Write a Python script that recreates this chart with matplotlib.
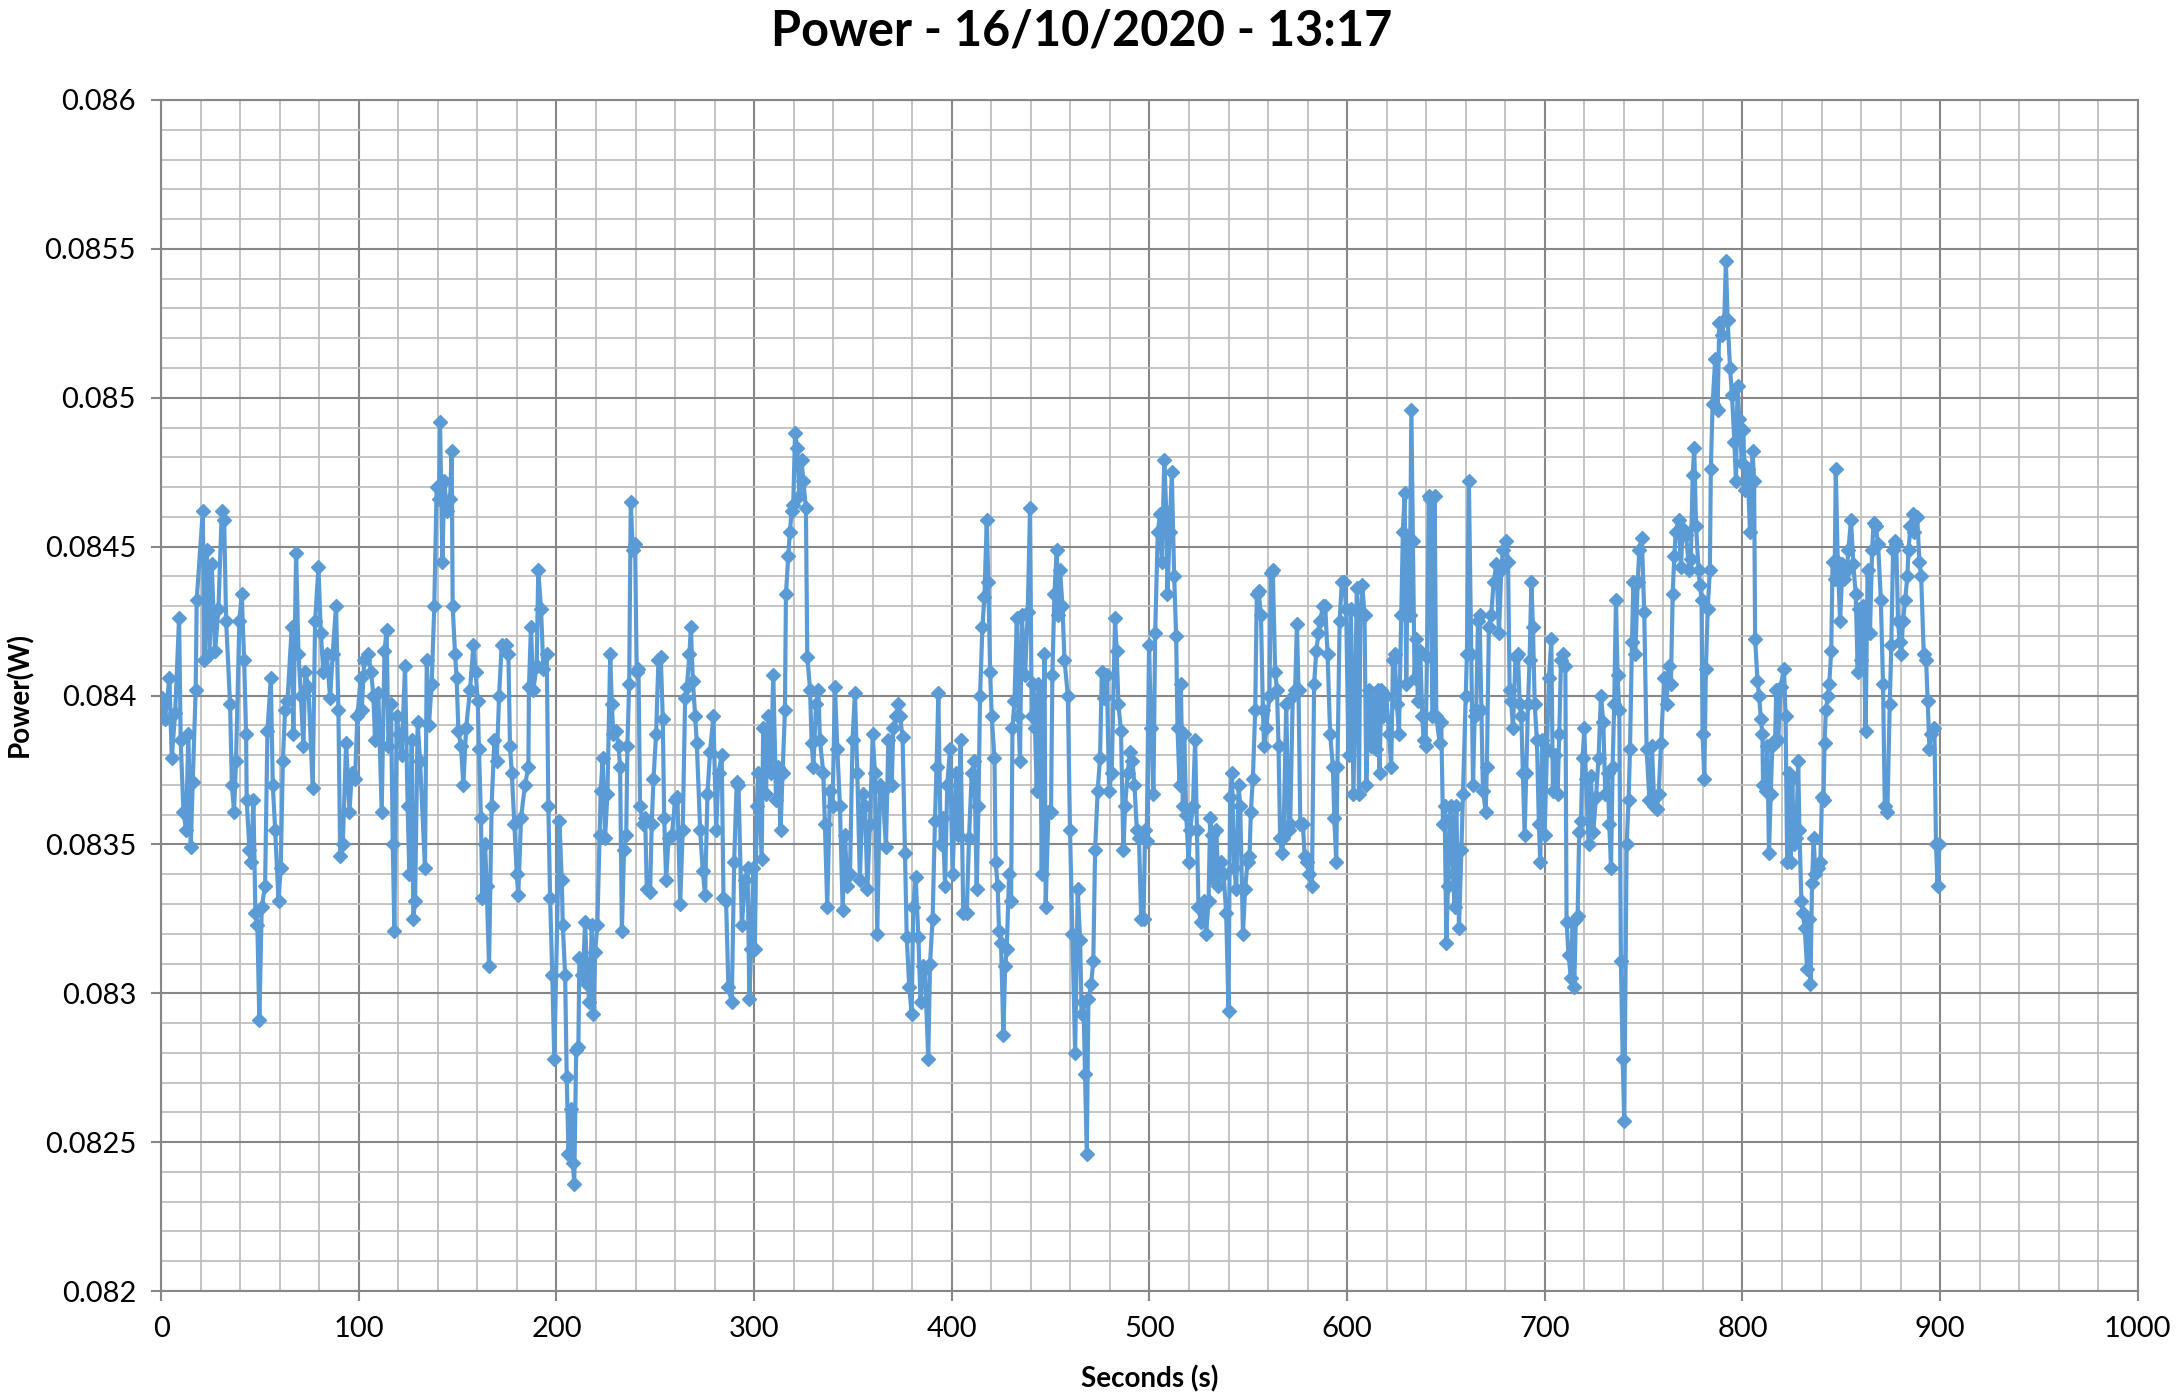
import numpy as np
import matplotlib
matplotlib.use("Agg")
import matplotlib.pyplot as plt
from matplotlib.ticker import MultipleLocator, FuncFormatter

plt.rcParams['font.family'] = ['Lato', 'DejaVu Sans']

# readings, seconds and power in mW, split in chunks of about 100 s
t1 = [0.3, 2.0, 4.2, 5.4, 7.1, 9.1, 9.9, 11.3, 12.6, 13.8, 15.0, 16.0, 17.5, 18.0, 21.1, 21.9, 23.1, 24.5, 25.6, 27.3,
      29.0, 30.7, 31.9, 32.9, 34.9, 35.8, 36.9, 37.9, 39.6, 40.8, 42.0, 43.0, 43.3, 44.7, 45.5, 46.7, 47.7, 48.7, 49.7, 50.9,
      52.6, 53.8, 55.5, 56.5, 57.7, 59.4, 60.5, 61.6, 62.7, 63.9, 66.1, 66.9, 68.3, 69.5, 70.7, 72.0, 72.9, 74.5, 76.7, 77.9,
      79.6, 80.8, 82.1, 83.8, 85.5, 86.8, 88.5, 89.7, 90.6, 91.9, 93.6, 95.3, 96.5, 98.1, 99.3, 101.0]
p1 = [83.99, 83.92, 84.06, 83.79, 83.94, 84.26, 83.85, 83.61, 83.55, 83.87, 83.49, 83.71, 84.02, 84.32, 84.62, 84.12, 84.49, 84.14, 84.44, 84.15,
      84.29, 84.62, 84.59, 84.25, 83.97, 83.70, 83.61, 83.78, 84.25, 84.34, 84.12, 83.87, 83.65, 83.48, 83.44, 83.65, 83.27, 83.23, 82.91, 83.29,
      83.36, 83.88, 84.06, 83.70, 83.55, 83.31, 83.42, 83.78, 83.95, 83.98, 84.23, 83.87, 84.48, 84.14, 84.00, 83.83, 84.08, 84.03, 83.69, 84.25,
      84.43, 84.21, 84.08, 84.14, 83.99, 84.14, 84.30, 83.95, 83.46, 83.50, 83.84, 83.61, 83.74, 83.72, 83.93, 84.06]

t2 = [101.5, 102.8, 104.8, 106.2, 107.4, 108.2, 109.9, 111.6, 113.0, 114.1, 115.0, 116.3, 117.2, 118.0, 119.2, 120.4, 121.7, 123.4, 124.7, 125.6,
      126.8, 127.6, 128.5, 129.8, 131.0, 133.5, 134.4, 135.5, 136.9, 138.2, 139.4, 140.6, 141.1, 142.3, 143.3, 144.5, 146.2, 147.0, 147.5, 148.7,
      149.5, 150.4, 151.7, 152.9, 154.3, 156.3, 158.0, 159.1, 160.2, 160.8, 161.8, 162.5, 163.9, 164.7, 165.9, 167.2, 168.6, 169.8, 171.0, 172.3,
      174.3, 175.7, 176.5, 177.4, 178.7, 179.9, 180.7, 182.1, 184.1, 185.8, 186.1, 187.1, 188.3, 190.0, 190.8, 192.2, 193.4, 195.1, 195.9, 196.8,
      197.9, 198.9]
p2 = [83.95, 84.12, 84.14, 84.08, 84.00, 83.85, 84.01, 83.61, 84.15, 84.22, 83.83, 83.97, 83.50, 83.21, 83.93, 83.87, 83.80, 84.10, 83.63, 83.40,
      83.85, 83.25, 83.31, 83.91, 83.78, 83.42, 84.12, 83.90, 84.04, 84.30, 84.70, 84.66, 84.92, 84.45, 84.72, 84.62, 84.66, 84.82, 84.30, 84.14,
      84.06, 83.88, 83.83, 83.70, 83.89, 84.02, 84.17, 84.08, 83.98, 83.82, 83.59, 83.32, 83.50, 83.36, 83.09, 83.63, 83.85, 83.78, 84.00, 84.17,
      84.17, 84.14, 83.83, 83.74, 83.57, 83.40, 83.33, 83.59, 83.70, 83.76, 84.03, 84.23, 84.02, 84.10, 84.42, 84.29, 84.09, 84.14, 83.63, 83.32,
      83.06, 82.78]

t3 = [201.5, 202.7, 203.2, 204.4, 205.2, 206.1, 207.3, 208.3, 209.0, 210.0, 211.1, 211.6, 212.8, 213.7, 214.5, 215.7, 216.7, 217.9, 218.7, 219.6,
      220.7, 221.8, 222.4, 223.4, 224.6, 225.8, 227.2, 228.0, 228.8, 230.2, 231.4, 232.2, 233.1, 234.2, 235.3, 235.9, 236.8, 237.6, 238.6, 239.8,
      240.6, 241.5, 242.3, 243.7, 244.9, 245.7, 247.4, 248.2, 249.1, 250.4, 251.6, 252.8, 253.8, 254.5, 255.5, 256.7, 258.4, 260.0, 261.2, 262.6,
      263.9, 265.1, 266.0, 267.3, 268.0, 269.0, 270.2, 271.0, 272.7, 274.0, 275.2, 276.4, 277.7, 279.4, 280.8, 282.0, 283.6, 284.5, 285.8, 287.0,
      288.7, 289.9, 291.2, 292.1, 293.8, 295.5, 296.7, 297.6, 298.5]
p3 = [83.58, 83.38, 83.23, 83.06, 82.72, 82.46, 82.61, 82.43, 82.36, 82.81, 82.82, 83.12, 83.06, 83.11, 83.24, 83.03, 82.97, 83.23, 82.93, 83.14,
      83.23, 83.53, 83.68, 83.79, 83.52, 83.67, 84.14, 83.97, 83.87, 83.88, 83.83, 83.76, 83.21, 83.48, 83.53, 83.83, 84.04, 84.65, 84.49, 84.51,
      84.08, 84.09, 83.63, 83.57, 83.59, 83.35, 83.34, 83.57, 83.72, 83.87, 84.12, 84.13, 83.92, 83.59, 83.38, 83.52, 83.53, 83.65, 83.66, 83.30,
      83.55, 83.99, 84.03, 84.14, 84.23, 84.05, 83.93, 83.84, 83.55, 83.41, 83.33, 83.67, 83.81, 83.93, 83.55, 83.74, 83.80, 83.32, 83.31, 83.02,
      82.97, 83.44, 83.71, 83.70, 83.23, 83.38, 83.42, 82.98, 83.15]

t4 = [299.6, 300.4, 301.3, 302.1, 303.8, 304.6, 306.0, 307.2, 308.4, 309.7, 311.1, 312.2, 313.4, 314.4, 315.6, 316.1, 317.3, 318.1, 319.0, 319.8,
      320.7, 321.8, 322.9, 324.0, 324.9, 326.2, 326.9, 328.3, 329.1, 330.0, 331.3, 332.5, 333.3, 335.0, 335.8, 337.0, 338.4, 339.7, 340.9, 342.1,
      343.4, 344.8, 346.0, 347.1, 348.5, 349.8, 351.0, 352.2, 353.5, 354.9, 356.1, 357.3, 358.6, 360.0, 361.1, 362.3, 363.7, 365.0, 366.7, 367.9,
      369.6, 370.4, 371.8, 373.0, 373.8, 375.1, 376.3, 377.2, 378.5, 379.7, 380.5, 381.7, 383.1, 384.2, 385.3, 386.4, 388.1, 389.0, 390.3, 391.5,
      392.3, 393.2, 394.4, 395.4, 396.6, 397.7, 399.1, 400.4, 402.1, 403.3, 404.5, 405.8]
p4 = [83.42, 83.15, 83.63, 83.74, 83.45, 83.89, 83.67, 83.93, 83.74, 84.07, 83.65, 83.76, 83.55, 83.74, 83.95, 84.34, 84.47, 84.55, 84.62, 84.64,
      84.88, 84.83, 84.67, 84.79, 84.72, 84.63, 84.13, 84.02, 83.84, 83.76, 83.97, 84.02, 83.85, 83.74, 83.57, 83.29, 83.68, 83.63, 84.03, 83.82,
      83.63, 83.28, 83.53, 83.36, 83.40, 83.85, 84.01, 83.74, 83.38, 83.67, 83.63, 83.35, 83.57, 83.87, 83.74, 83.20, 83.70, 83.68, 83.49, 83.85,
      83.70, 83.89, 83.93, 83.97, 83.93, 83.86, 83.47, 83.19, 83.02, 82.93, 83.29, 83.39, 83.19, 82.97, 83.09, 83.08, 82.78, 83.10, 83.25, 83.58,
      83.76, 84.01, 83.50, 83.59, 83.36, 83.70, 83.82, 83.40, 83.74, 83.53, 83.85, 83.27]

t5 = [407.6, 408.7, 410.1, 411.4, 412.6, 413.5, 414.3, 415.5, 416.5, 417.7, 418.5, 419.4, 420.2, 421.6, 422.2, 423.2, 423.9, 424.9, 426.1, 427.0,
      427.8, 429.0, 430.0, 430.7, 431.7, 432.9, 433.7, 434.5, 435.4, 437.1, 438.4, 439.6, 440.4, 441.3, 442.1, 443.0, 443.8, 444.7, 445.5, 446.9,
      447.5, 448.9, 450.2, 450.9, 451.9, 453.1, 453.9, 454.8, 456.0, 457.0, 458.7, 459.8, 461.0, 462.4, 463.7, 464.9, 465.7, 466.6, 467.4, 468.3,
      469.1, 470.5, 471.6, 472.5, 473.8, 475.0, 475.9, 477.2, 478.4, 479.6, 480.9, 482.6, 483.4, 484.3, 485.6, 486.8, 487.7, 489.0, 490.2, 491.4,
      492.4, 493.6, 494.7, 495.8, 497.0, 497.8, 498.6, 499.8, 500.8, 502.0, 502.9, 504.2]
p5 = [83.27, 83.52, 83.74, 83.78, 83.35, 83.63, 84.00, 84.23, 84.33, 84.59, 84.38, 84.08, 83.93, 83.79, 83.44, 83.36, 83.21, 83.17, 82.86, 83.09,
      83.15, 83.40, 83.31, 83.89, 83.98, 84.26, 83.93, 83.78, 84.27, 84.07, 84.28, 84.63, 83.93, 84.04, 83.89, 83.68, 84.04, 84.00, 83.40, 84.14,
      83.29, 83.61, 83.61, 84.07, 84.34, 84.49, 84.27, 84.42, 84.30, 84.12, 84.00, 83.55, 83.20, 82.80, 83.35, 83.18, 82.93, 82.97, 82.73, 82.46,
      82.98, 83.03, 83.11, 83.48, 83.68, 83.79, 84.08, 83.99, 84.07, 83.68, 83.74, 84.26, 84.15, 83.97, 83.88, 83.48, 83.63, 83.74, 83.81, 83.78,
      83.70, 83.55, 83.52, 83.25, 83.25, 83.55, 83.51, 84.17, 83.89, 83.67, 84.21, 84.55]

t6 = [505.4, 506.3, 507.5, 508.5, 509.1, 510.2, 511.3, 512.5, 513.5, 514.2, 515.2, 515.9, 516.9, 517.6, 518.6, 519.8, 520.6, 522.0, 523.1, 524.0,
      524.8, 526.0, 527.4, 528.7, 529.9, 530.7, 531.6, 532.4, 533.8, 534.9, 536.1, 537.5, 538.8, 540.0, 540.8, 541.7, 542.9, 543.9, 545.1, 545.9,
      547.3, 548.4, 549.6, 550.6, 551.3, 552.3, 553.5, 554.3, 555.2, 556.4, 557.4, 558.0, 559.1, 560.7, 561.4, 562.4, 563.6, 564.5, 565.3, 566.1,
      567.0, 567.8, 569.2, 570.4, 571.2, 572.5, 573.7, 574.6, 575.4, 576.3, 577.6, 578.5, 579.6, 580.8, 582.2, 583.3, 584.4, 585.5, 586.4, 587.7,
      588.9, 590.1, 591.4, 592.8, 593.5, 594.5, 595.1, 596.2, 597.3, 598.5, 599.5, 600.7, 601.9, 603.2, 604.9]
p6 = [84.61, 84.45, 84.79, 84.62, 84.34, 84.55, 84.75, 84.40, 84.20, 83.89, 83.70, 84.04, 83.63, 83.87, 83.60, 83.44, 83.55, 83.63, 83.85, 83.55,
      83.29, 83.24, 83.31, 83.20, 83.31, 83.59, 83.53, 83.38, 83.55, 83.36, 83.44, 83.40, 83.27, 82.94, 83.66, 83.74, 83.42, 83.35, 83.70, 83.63,
      83.20, 83.35, 83.44, 83.46, 83.61, 83.72, 83.95, 84.34, 84.35, 84.27, 83.95, 83.83, 83.89, 84.00, 84.41, 84.42, 84.08, 84.02, 83.83, 83.52,
      83.47, 83.52, 83.97, 83.55, 83.57, 84.00, 84.02, 84.24, 84.02, 83.57, 83.57, 83.46, 83.44, 83.40, 83.36, 84.04, 84.15, 84.21, 84.25, 84.30,
      84.30, 84.14, 83.87, 83.76, 83.59, 83.44, 83.76, 84.25, 84.38, 84.38, 84.29, 83.80, 84.29, 83.67, 84.36]

t7 = [606.0, 606.7, 607.7, 608.8, 609.7, 611.0, 612.2, 613.1, 614.4, 615.6, 616.4, 617.3, 618.1, 619.8, 621.2, 622.3, 623.2, 624.0, 625.2, 626.2,
      627.4, 628.2, 629.1, 629.9, 630.8, 631.6, 632.5, 633.3, 634.1, 635.0, 635.8, 637.0, 638.0, 638.7, 639.7, 640.4, 641.4, 642.1, 643.1, 644.3,
      645.1, 646.8, 647.6, 648.5, 649.3, 650.2, 651.0, 651.8, 652.7, 653.5, 654.4, 655.2, 656.6, 657.8, 658.6, 660.0, 660.6, 661.6, 662.8, 663.7,
      664.5, 665.3, 666.2, 667.0, 667.9, 668.7, 670.1, 670.7, 671.7, 672.9, 674.1, 675.5, 676.8, 678.0, 678.8, 680.2, 681.4, 682.2, 683.0, 683.9,
      685.2, 686.4, 687.3, 688.1, 688.9, 689.8, 690.6, 691.5, 692.3, 693.2, 694.0, 694.9, 696.0, 697.0, 697.7, 698.7, 699.9, 701.1, 702.1, 703.3,
      704.1]
p7 = [83.67, 84.27, 84.37, 84.27, 83.70, 84.02, 83.83, 83.98, 83.82, 84.02, 83.74, 84.02, 83.93, 84.00, 83.87, 83.76, 84.12, 84.14, 83.97, 83.87,
      84.27, 84.55, 84.68, 84.04, 84.53, 84.27, 84.96, 84.52, 84.06, 84.19, 83.98, 84.15, 83.93, 83.85, 83.83, 84.13, 84.67, 84.66, 83.93, 84.67,
      83.93, 83.84, 83.91, 83.57, 83.63, 83.17, 83.36, 83.59, 83.63, 83.40, 83.29, 83.63, 83.22, 83.48, 83.67, 84.00, 84.14, 84.72, 84.14, 83.70,
      83.93, 83.95, 84.25, 84.27, 83.95, 83.68, 83.61, 83.76, 84.23, 84.27, 84.38, 84.44, 84.21, 84.42, 84.49, 84.52, 84.45, 84.02, 83.98, 83.89,
      84.13, 84.14, 83.97, 83.93, 83.74, 83.53, 83.74, 83.97, 84.12, 84.38, 84.23, 83.97, 83.85, 83.57, 83.44, 83.85, 83.53, 83.82, 84.06, 84.19,
      83.68]

t8 = [705.3, 706.5, 707.3, 708.2, 709.3, 710.4, 711.0, 712.0, 713.2, 714.1, 714.9, 715.7, 716.6, 717.4, 718.3, 719.1, 720.0, 720.8, 722.2, 723.3,
      724.5, 725.9, 727.2, 728.4, 729.6, 730.6, 731.8, 732.6, 733.5, 734.3, 735.1, 736.0, 736.8, 737.7, 738.5, 739.4, 740.2, 741.4, 742.4, 743.1,
      744.1, 744.8, 745.8, 747.0, 747.8, 749.1, 750.3, 751.5, 752.9, 754.2, 755.4, 756.6, 757.6, 758.8, 760.4, 761.6, 762.6, 763.8, 764.7, 765.5,
      766.3, 767.7, 768.9, 769.7, 771.4, 773.1, 773.9, 774.8, 775.6, 776.5, 777.8, 778.5, 779.3, 779.8, 780.7, 781.5, 782.4, 783.5, 784.0, 784.9,
      786.2, 787.4, 788.3, 789.6, 790.8, 791.6, 792.5, 793.7, 794.7, 795.9, 796.7, 797.5, 798.4, 799.7, 800.4, 801.4, 802.6, 803.8]
p8 = [83.80, 83.67, 83.87, 84.12, 84.14, 84.10, 83.24, 83.13, 83.05, 83.24, 83.02, 83.25, 83.26, 83.54, 83.58, 83.79, 83.89, 83.72, 83.50, 83.73,
      83.54, 83.66, 83.79, 84.00, 83.91, 83.67, 83.74, 83.57, 83.42, 83.76, 83.97, 84.32, 84.07, 83.95, 83.11, 82.78, 82.57, 83.50, 83.65, 83.82,
      84.18, 84.38, 84.14, 84.38, 84.49, 84.53, 84.28, 83.82, 83.65, 83.83, 83.63, 83.62, 83.67, 83.84, 84.06, 83.97, 84.10, 84.04, 84.34, 84.47,
      84.55, 84.59, 84.43, 84.56, 84.54, 84.42, 84.46, 84.74, 84.83, 84.57, 84.42, 84.37, 84.32, 83.87, 83.72, 84.09, 84.29, 84.42, 84.76, 84.98,
      85.13, 84.96, 85.25, 85.21, 85.26, 85.46, 85.26, 85.10, 85.01, 84.85, 84.72, 85.04, 84.93, 84.78, 84.89, 84.69, 84.76, 84.55]

t9 = [805.1, 805.9, 806.4, 807.6, 808.4, 809.3, 810.1, 810.4, 811.8, 812.6, 813.4, 814.3, 815.1, 816.5, 817.1, 818.1, 819.3, 821.0, 821.8, 822.6,
      823.5, 824.3, 825.2, 826.0, 827.2, 828.2, 828.8, 829.8, 830.5, 831.5, 832.7, 833.5, 834.4, 835.2, 836.0, 836.9, 838.2, 839.4, 840.2, 841.0,
      841.5, 842.2, 843.2, 843.9, 844.9, 845.6, 846.6, 847.2, 848.2, 849.4, 850.6, 851.6, 852.8, 853.6, 854.9, 856.1, 857.3, 858.3, 858.9, 859.9,
      861.1, 862.3, 863.3, 864.5, 865.6, 866.3, 867.3, 868.6, 870.0, 871.1, 872.0, 873.3, 874.5, 875.3, 876.2, 877.0, 877.8, 878.7, 879.5, 880.3,
      881.2, 882.3, 883.4, 884.0, 885.0, 886.2, 887.0, 888.4, 889.5, 890.4, 891.7, 892.9, 893.7, 894.6, 895.4, 897.1, 897.9, 898.7, 899.6]
p9 = [84.82, 84.72, 84.19, 84.05, 84.00, 83.92, 83.87, 83.70, 83.68, 83.83, 83.47, 83.67, 83.83, 83.85, 84.02, 83.85, 84.03, 84.09, 83.93, 83.44,
      83.74, 83.44, 83.72, 83.50, 83.52, 83.78, 83.55, 83.31, 83.27, 83.22, 83.08, 83.25, 83.03, 83.37, 83.52, 83.40, 83.42, 83.44, 83.66, 83.65,
      83.84, 83.95, 84.00, 84.04, 84.15, 84.45, 84.39, 84.76, 84.45, 84.25, 84.44, 84.39, 84.42, 84.49, 84.59, 84.44, 84.34, 84.08, 84.29, 84.12,
      84.30, 83.88, 84.42, 84.21, 84.49, 84.58, 84.57, 84.51, 84.32, 84.04, 83.63, 83.61, 83.97, 84.17, 84.49, 84.52, 84.51, 84.25, 84.18, 84.14,
      84.25, 84.32, 84.40, 84.49, 84.57, 84.61, 84.55, 84.60, 84.45, 84.40, 84.14, 84.12, 83.98, 83.82, 83.87, 83.89, 83.50, 83.36, 83.50]

x_ticks = [0, 100, 200, 300, 400, 500, 600, 700, 800, 900, 1000]
y_ticks = [0.082, 0.0825, 0.083, 0.0835, 0.084, 0.0845, 0.085, 0.0855, 0.086]

seconds = np.array(t1 + t2 + t3 + t4 + t5 + t6 + t7 + t8 + t9)
power = np.array(p1 + p2 + p3 + p4 + p5 + p6 + p7 + p8 + p9) / 1000.0

BLUE = "#5B9BD5"
MAJOR = "#878787"
MINOR = "#BFBFBF"

fig = plt.figure(figsize=(21.77, 13.98), dpi=100)
ax = fig.add_axes([0.074, 0.0765, 0.908, 0.852])

ax.plot(seconds, power, color=BLUE, lw=3.0, marker="D", ms=7.5, mec=BLUE, mfc=BLUE, zorder=3)

ax.set_xlim(0, 1000)
ax.set_ylim(0.082, 0.086)
ax.set_xticks(x_ticks)
ax.set_yticks(y_ticks)
ax.xaxis.set_minor_locator(MultipleLocator(20))
ax.yaxis.set_minor_locator(MultipleLocator(0.0001))
ax.yaxis.set_major_formatter(FuncFormatter(lambda v, _: f"{v:.4f}".rstrip("0")))

ax.set_axisbelow(True)
ax.grid(which="major", color=MAJOR, lw=1.5)
ax.grid(which="minor", color=MINOR, lw=1.3)
for s in ax.spines.values():
    s.set_color(MAJOR)
    s.set_linewidth(1.5)

ax.tick_params(which="major", length=7, width=1.5, color=MAJOR, labelsize=21, pad=11)
ax.tick_params(which="minor", length=0)

fig.text(0.497, 0.978, "Power - 16/10/2020 - 13:17", ha="center", va="center",
         fontsize=35, fontweight="bold")
fig.text(0.528, 0.014, "Seconds (s)", ha="center", va="center", fontsize=20, fontweight="bold")
fig.text(0.009, 0.503, "Power(W)", ha="center", va="center", rotation=90, fontsize=20, fontweight="bold")

fig.savefig("out.png", dpi=100)
